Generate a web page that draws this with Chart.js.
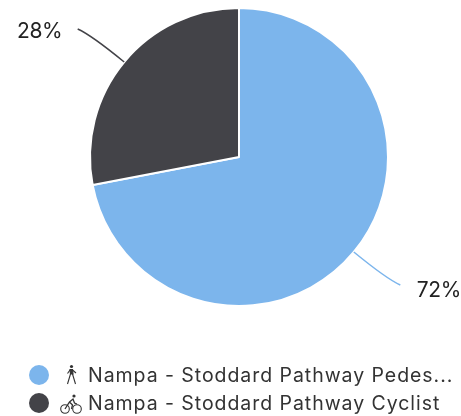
<!DOCTYPE html>
<html>
<head>
<meta charset="utf-8">
<style>
    html, body { margin: 0; padding: 0; background: #fff; overflow: hidden; }
    #wrap { position: relative; width: 461px; height: 416px; }
    #legend { position: absolute; left: 0; top: 0; }
    .item { position: absolute; left: 0; width: 461px; height: 28px; }
    .dot { position: absolute; left: 29px; top: 4px; width: 20px; height: 20px; border-radius: 50%; }
    .item svg { position: absolute; left: 59px; top: 2px; }
    .txt { position: absolute; left: 88px; top: 0; white-space: nowrap;
           font: 19.5px/28px Inter, sans-serif; color: #333; letter-spacing: 0.95px; }
</style>
</head>
<body>
<div id="wrap">
    <canvas id="pieChart" width="461" height="416"></canvas>
    <div id="legend"></div>
</div>
<script src="https://cdn.jsdelivr.net/npm/chart.js@4"></script>
<script>
var categories = ['Nampa - Stoddard Pathway Pedes...', 'Nampa - Stoddard Pathway Cyclist'];
var shares = [72, 28];
var colors = ['#7cb5ec', '#434348'];

// little glyphs in front of the legend text
var icons = [
    '<svg width="24" height="24" viewBox="0 0 24 24" fill="none" stroke="#333" stroke-width="1.1">' +
        '<circle cx="12.5" cy="3.5" r="1.6" fill="#333" stroke="none"/>' +
        '<path d="M11 6.5 L13.5 6.5 L14 11 L11.5 11 Z" fill="#333"/>' +
        '<path d="M11.5 11 L8.5 21 M13.5 11 L16.5 21 M11 7 L8.5 10.5 M13.5 7 L17 10"/></svg>',
    '<svg width="24" height="24" viewBox="0 0 24 24" fill="none" stroke="#333" stroke-width="1.1">' +
        '<circle cx="6" cy="18" r="4.3"/><circle cx="18" cy="18" r="4.3"/>' +
        '<circle cx="15" cy="5" r="1.6" fill="#333" stroke="none"/>' +
        '<path d="M6 18 L10.5 11 L14 8 L15.5 12 L18 13 M10.5 11 L13.5 14 L12.5 18" stroke-width="1.3"/></svg>'
];

// percent labels with the curved connector, placed from each arc's mid angle
var connectorLabels = {
    id: 'connectorLabels',
    afterDatasetsDraw: function (chart) {
        var ctx = chart.ctx;
        var arcs = chart.getDatasetMeta(0).data;
        arcs.forEach(function (arc, i) {
            var p = arc.getProps(['x', 'y', 'startAngle', 'endAngle', 'outerRadius']);
            var mid = (p.startAngle + p.endAngle) / 2;
            var sx = p.x + Math.cos(mid) * p.outerRadius;
            var sy = p.y + Math.sin(mid) * p.outerRadius;
            var dirX = Math.cos(mid) > 0 ? 1 : -1;
            var dirY = Math.sin(mid) > 0 ? 1 : -1;

            ctx.save();
            ctx.strokeStyle = colors[i];
            ctx.lineWidth = 1.5;
            ctx.beginPath();
            ctx.moveTo(sx, sy);
            ctx.quadraticCurveTo(sx + dirX * 33, sy + dirY * 27, sx + dirX * 46.5, sy + dirY * 33);
            ctx.stroke();

            ctx.fillStyle = '#222';
            ctx.font = '21px Inter, sans-serif';
            ctx.letterSpacing = '-0.4px';
            ctx.textBaseline = 'middle';
            ctx.textAlign = dirX > 0 ? 'left' : 'right';
            ctx.fillText(shares[i] + '%', sx + dirX * 63 - (dirX < 0 ? -1 : 0), sy + dirY * 34.5 + 4);
            ctx.restore();
        });
    }
};

var legendEl = document.getElementById('legend');
categories.forEach(function (name, i) {
    var item = document.createElement('div');
    item.className = 'item';
    item.style.top = (361 + i * 28) + 'px';
    item.innerHTML = '<span class="dot" style="background:' + colors[i] + '"></span>' + icons[i] +
        '<span class="txt">' + name + '</span>';
    legendEl.appendChild(item);
});

new Chart(document.getElementById('pieChart').getContext('2d'), {
    type: 'pie',
    data: {
        labels: categories,
        datasets: [{
            data: shares,
            backgroundColor: colors,
            borderColor: '#ffffff',
            borderWidth: 2
        }]
    },
    options: {
        responsive: false,
        animation: false,
        layout: { padding: { left: 89, right: 72, top: 7, bottom: 109 } },
        plugins: {
            legend: { display: false },
            tooltip: { enabled: false }
        }
    },
    plugins: [connectorLabels]
});
</script>
</body>
</html>
